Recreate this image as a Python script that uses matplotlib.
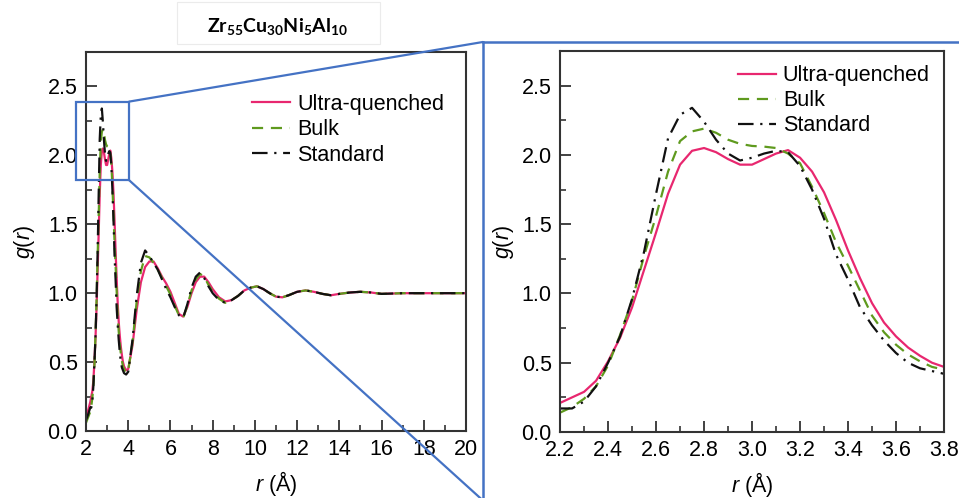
import matplotlib
matplotlib.use('Agg')
import matplotlib.pyplot as plt
import numpy as np
from matplotlib.patches import Rectangle, ConnectionPatch
from matplotlib.lines import Line2D

plt.rcParams['font.family'] = 'Liberation Sans'
plt.rcParams['mathtext.fontset'] = 'custom'
plt.rcParams['mathtext.rm'] = 'Liberation Sans'
plt.rcParams['mathtext.it'] = 'Liberation Sans:italic'
plt.rcParams['mathtext.bf'] = 'Lato:bold'

# g(r) around the first peak (fine sampling)
r_peak = [2.20, 2.25, 2.30, 2.35, 2.40, 2.45, 2.50, 2.55, 2.60, 2.65, 2.70,
          2.75, 2.80, 2.85, 2.90, 2.95, 3.00, 3.05, 3.10, 3.15, 3.20, 3.25,
          3.30, 3.35, 3.40, 3.45, 3.50, 3.55, 3.60, 3.65, 3.70, 3.75, 3.80]
uq_peak = [0.21, 0.25, 0.29, 0.37, 0.51, 0.68, 0.90, 1.17, 1.44, 1.72, 1.93,
           2.03, 2.05, 2.02, 1.97, 1.93, 1.93, 1.97, 2.01, 2.035, 1.98, 1.88,
           1.73, 1.53, 1.31, 1.11, 0.93, 0.79, 0.69, 0.61, 0.55, 0.50, 0.47]
bulk_peak = [0.14, 0.18, 0.24, 0.33, 0.48, 0.70, 0.95, 1.27, 1.56, 1.88, 2.10,
             2.17, 2.19, 2.16, 2.11, 2.08, 2.065, 2.06, 2.05, 2.01, 1.94, 1.77,
             1.58, 1.37, 1.20, 1.02, 0.84, 0.72, 0.63, 0.56, 0.51, 0.47, 0.45]
std_peak = [0.17, 0.17, 0.22, 0.33, 0.50, 0.69, 0.96, 1.30, 1.72, 2.12, 2.29,
            2.34, 2.24, 2.11, 2.01, 1.96, 1.98, 2.01, 2.03, 2.02, 1.92, 1.75,
            1.54, 1.28, 1.10, 0.90, 0.77, 0.66, 0.57, 0.50, 0.46, 0.44, 0.42]

# short range below the peak
r_head = [2.0, 2.1]
uq_head = [0.11, 0.15]
bulk_head = [0.06, 0.10]
std_head = [0.08, 0.12]

# long range tail
r_tail = [3.9, 4.0, 4.2, 4.4, 4.6, 4.8, 5.0, 5.2, 5.4, 5.6, 5.8, 6.0, 6.2,
          6.4, 6.6, 6.8, 7.0, 7.2, 7.4, 7.6, 7.8, 8.0, 8.3, 8.6, 8.9, 9.2,
          9.5, 9.8, 10.1, 10.4, 10.7, 11.0, 11.3, 11.6, 12.0, 12.4, 12.8,
          13.2, 13.6, 14.0, 14.5, 15.0, 15.5, 16.0, 17.0, 18.0, 19.0, 20.0]
uq_tail = [0.44, 0.45, 0.62, 0.88, 1.08, 1.19, 1.23, 1.23, 1.18, 1.12, 1.07,
           1.01, 0.93, 0.85, 0.83, 0.90, 1.00, 1.08, 1.12, 1.12, 1.08, 1.03,
           0.97, 0.94, 0.95, 0.98, 1.02, 1.04, 1.05, 1.03, 1.00, 0.975, 0.97,
           0.985, 1.01, 1.02, 1.01, 0.995, 0.985, 0.995, 1.005, 1.01, 1.005,
           0.995, 1.0, 1.0, 1.0, 1.0]
bulk_tail = [0.42, 0.44, 0.64, 0.94, 1.16, 1.27, 1.26, 1.22, 1.17, 1.11, 1.05,
             0.99, 0.91, 0.84, 0.82, 0.91, 1.02, 1.10, 1.14, 1.12, 1.06, 1.01,
             0.96, 0.93, 0.95, 0.98, 1.02, 1.04, 1.05, 1.03, 1.00, 0.975, 0.97,
             0.985, 1.01, 1.02, 1.01, 0.995, 0.985, 0.995, 1.005, 1.01, 1.005,
             0.995, 1.0, 1.0, 1.0, 1.0]
std_tail = [0.41, 0.43, 0.66, 0.98, 1.22, 1.31, 1.27, 1.22, 1.17, 1.10, 1.03,
            0.97, 0.90, 0.84, 0.82, 0.92, 1.04, 1.12, 1.15, 1.11, 1.05, 1.00,
            0.95, 0.93, 0.95, 0.98, 1.02, 1.04, 1.05, 1.03, 1.00, 0.975, 0.97,
            0.985, 1.01, 1.02, 1.01, 0.995, 0.985, 0.995, 1.005, 1.01, 1.005,
            0.995, 1.0, 1.0, 1.0, 1.0]

labels = ['Ultra-quenched', 'Bulk', 'Standard']
colors = ['#e8276f', '#5f9a1e', '#111111']
styles = ['-', (0, (5, 3.5)), (0, (7, 3, 1, 3))]

r_full = r_head + r_peak + r_tail
full = [uq_head + uq_peak + uq_tail,
        bulk_head + bulk_peak + bulk_tail,
        std_head + std_peak + std_tail]
peak = [uq_peak, bulk_peak, std_peak]

fig = plt.figure(figsize=(9.59, 4.98), dpi=100)
ax1 = fig.add_axes([0.0897, 0.1345, 0.3962, 0.7611])
ax2 = fig.add_axes([0.584, 0.1325, 0.4004, 0.765])

for y, c, ls, lab in zip(full, colors, styles, labels):
    ax1.plot(r_full, y, color=c, linestyle=ls, lw=1.6, label=lab)
for y, c, ls, lab in zip(peak, colors, styles, labels):
    ax2.plot(r_peak, y, color=c, linestyle=ls, lw=1.6, label=lab)

ax1.set_xlim(2, 20)
ax1.set_xticks(np.arange(2, 21, 2))
ax1.set_xticks(np.arange(3, 20, 2), minor=True)
ax2.set_xlim(2.2, 3.8)
ax2.set_xticks(np.arange(2.2, 3.81, 0.2))
ax2.set_xticks(np.arange(2.3, 3.8, 0.2), minor=True)
ax2.xaxis.set_major_formatter(matplotlib.ticker.FormatStrFormatter('%.1f'))

for ax in (ax1, ax2):
    ax.set_ylim(0, 2.75)
    ax.set_yticks([0, 0.5, 1.0, 1.5, 2.0, 2.5])
    ax.set_yticks([0.25, 0.75, 1.25, 1.75, 2.25], minor=True)
    ax.yaxis.set_major_formatter(matplotlib.ticker.FormatStrFormatter('%.1f'))
    ax.tick_params(which='major', direction='in', length=8, width=1.3,
                   labelsize=15.5, color='#333333', pad=6)
    ax.tick_params(which='minor', direction='in', length=4.5, width=1.2,
                   color='#333333')
    for s in ax.spines.values():
        s.set_color('#333333')
        s.set_linewidth(1.5)
    ax.set_ylabel(r'$g$($r$)', fontsize=15.5)
    ax.set_xlabel(r'$r$ (Å)', fontsize=15.5)
    ax.xaxis.set_label_coords(0.5, -0.10)

ax1.yaxis.set_label_coords(-0.13, 0.5)
ax2.yaxis.set_label_coords(-0.115, 0.5)

ax1.legend(loc='upper left', bbox_to_anchor=(0.415, 0.912), frameon=False,
           fontsize=15.5, handlelength=1.77, handletextpad=0.33,
           labelspacing=0.2, borderaxespad=0)
ax2.legend(loc='upper left', bbox_to_anchor=(0.44, 0.985), frameon=False,
           fontsize=15.5, handlelength=1.77, handletextpad=0.33,
           labelspacing=0.18, borderaxespad=0)

# zoom box and connectors
blue = '#4472c4'
ax1.add_patch(Rectangle((1.51, 1.82), 2.53, 0.57, fill=False, edgecolor=blue,
                        lw=1.6, clip_on=False, zorder=5))
bx, by = 0.5036, 0.9157
fig.add_artist(Line2D([bx, 1.0], [by, by], color=blue, lw=1.8))
fig.add_artist(Line2D([bx, bx], [by, 0.0], color=blue, lw=1.8))
for yy, fy in ((2.39, by), (1.82, -0.005)):
    fig.add_artist(ConnectionPatch((4.04, yy), (bx, fy), coordsA='data',
                                   coordsB='figure fraction', axesA=ax1,
                                   color=blue, lw=1.6))

# composition label
fig.add_artist(Rectangle((0.1846, 0.9116), 0.2116, 0.0844,
                         transform=fig.transFigure, fc='white',
                         ec='#ebebeb', lw=0.8))
fig.text(0.2894, 0.9357, r'$\mathbf{Zr_{55}Cu_{30}Ni_{5}Al_{10}}$',
         ha='center', va='baseline', fontsize=14)

fig.savefig('out.png', dpi=100)
